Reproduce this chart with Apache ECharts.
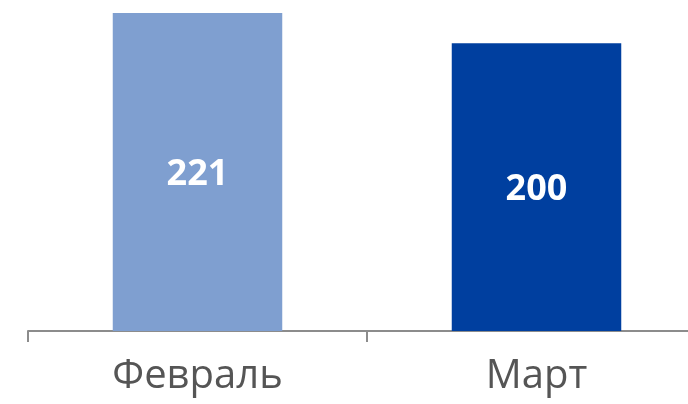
<!DOCTYPE html>
<html>
<head>
<meta charset="utf-8">
<script src="https://cdn.jsdelivr.net/npm/echarts@6/dist/echarts.min.js"></script>
<style>
  html, body { margin: 0; padding: 0; background: #fff; }
  #chart { width: 688px; height: 404px; }
</style>
</head>
<body>
<div id="chart"></div>
<script>
var categories = ['Февраль', 'Март'];
var values = [221, 200];
var barColors = ['#7f9fd0', '#003f9f'];

var chart = echarts.init(document.getElementById('chart'));

var option = {
  backgroundColor: '#ffffff',
  animation: false,
  grid: {
    left: 28,
    right: -18,
    top: 0,
    bottom: 73,
    outerBoundsMode: 'none',
    containLabel: false
  },
  xAxis: {
    type: 'category',
    data: categories,
    axisLine: { lineStyle: { color: '#8c8c8c', width: 2 } },
    axisTick: { show: true, length: 11, lineStyle: { color: '#8c8c8c', width: 2 } },
    axisLabel: {
      color: '#555555',
      fontSize: 40,
      fontFamily: 'Open Sans',
      margin: 26
    }
  },
  yAxis: {
    type: 'value',
    min: 0,
    max: 230,
    show: false,
    splitLine: { show: false }
  },
  series: [{
    type: 'bar',
    barWidth: '50%',
    data: values.map(function (v, i) {
      return { value: v, itemStyle: { color: barColors[i] } };
    }),
    label: {
      show: true,
      position: 'inside',
      offset: [0, 3],
      color: '#ffffff',
      fontSize: 36,
      fontWeight: 'bold',
      fontFamily: 'Open Sans'
    }
  }]
};

chart.setOption(option);
</script>
</body>
</html>
